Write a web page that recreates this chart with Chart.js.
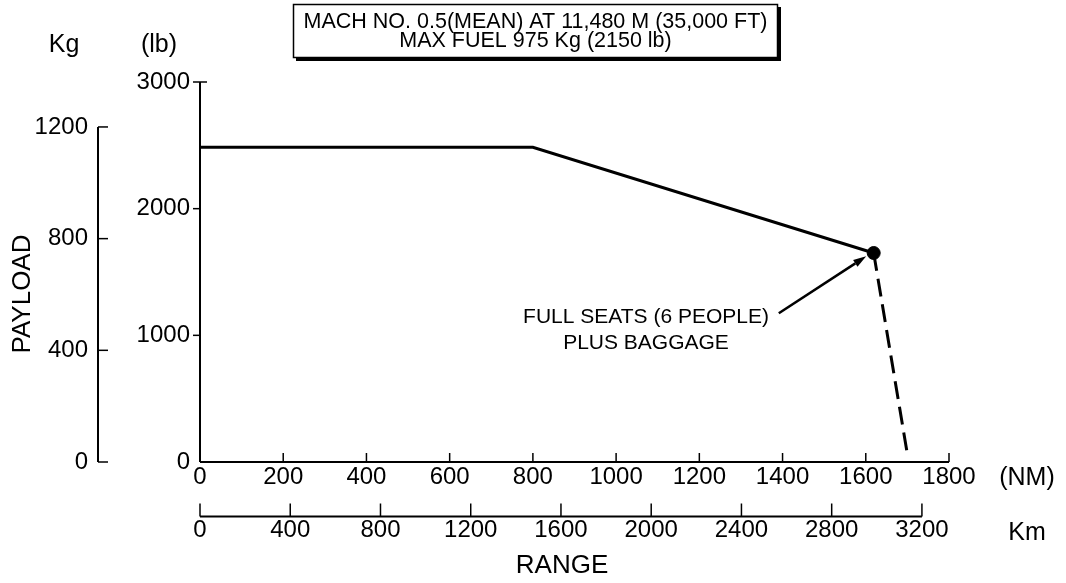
<!DOCTYPE html>
<html><head><meta charset="utf-8">
<script src="https://cdn.jsdelivr.net/npm/chart.js@4/dist/chart.umd.min.js"></script>
<style>html,body{margin:0;padding:0;background:#fff;} canvas{display:block;}</style>
</head><body>
<canvas id="c" width="1066" height="583"></canvas>
<script>
// ---- data ----
const rangeNM = [0, 800, 1619];
const payloadLb = [2485, 2485, 1650];
const fullSeatsNM = [1619];
const fullSeatsLb = [1650];
const fuelLimitNM = [1619, 1699];
const fuelLimitLb = [1650, 80];
const nmTicks = [0, 200, 400, 600, 800, 1000, 1200, 1400, 1600, 1800];
const kmTicks = [0, 400, 800, 1200, 1600, 2000, 2400, 2800, 3200];
const lbTicks = [0, 1000, 2000, 3000];
const kgTicks = [0, 400, 800, 1200];
const nmMax = 1800, kmMax = 3320, lbMax = 3000, kgMax = 1361;
const titleLines = ["MACH NO. 0.5(MEAN) AT 11,480 M (35,000 FT)", "MAX FUEL 975 Kg (2150 lb)"];
const noteLines = ["FULL SEATS (6 PEOPLE)", "PLUS BAGGAGE"];
const arrowFrom = {x: 1391, y: 1174};
const arrowTo = {x: 1601, y: 1624};

const F = '"Liberation Sans", Arial, Helvetica, sans-serif';
const pts = (xs, ys) => xs.map((x, i) => ({x, y: ys[i]}));
const fixTicks = arr => s => { s.ticks = arr.map(v => ({value: v})); };
const plain = v => String(v);
const tickFont = {size: 24, family: F};

const axesPlugin = {
  id: 'axesDeco',
  beforeDraw(chart) {
    const c = chart.ctx;
    c.save(); c.fillStyle = '#fff'; c.fillRect(0, 0, chart.width, chart.height); c.restore();
  },
  afterDraw(chart) {
    const c = chart.ctx, s = chart.scales, ca = chart.chartArea;
    c.save();
    c.strokeStyle = '#000'; c.fillStyle = '#000';
    const line = (x1, y1, x2, y2, w) => { c.lineWidth = w; c.beginPath(); c.moveTo(x1, y1); c.lineTo(x2, y2); c.stroke(); };
    // lb axis
    const lx = ca.left;
    line(lx, s.y.getPixelForValue(0), lx, s.y.getPixelForValue(lbMax), 2);
    lbTicks.forEach(v => { if (v > 0) line(lx - 7, s.y.getPixelForValue(v), lx, s.y.getPixelForValue(v), 1.5); });
    line(lx, s.y.getPixelForValue(lbMax), lx + 7, s.y.getPixelForValue(lbMax), 1.5);
    // kg axis
    const kx = s.ykg.right - 38;
    line(kx, s.ykg.getPixelForValue(0), kx, s.ykg.getPixelForValue(kgTicks[kgTicks.length - 1]), 2);
    kgTicks.forEach(v => line(kx, s.ykg.getPixelForValue(v), kx + 10, s.ykg.getPixelForValue(v), 1.5));
    // NM axis
    const ny = ca.bottom;
    line(s.x.getPixelForValue(0), ny, s.x.getPixelForValue(nmMax), ny, 2);
    nmTicks.forEach(v => { if (v > 0) line(s.x.getPixelForValue(v), ny, s.x.getPixelForValue(v), ny - 9, 1.5); });
    // km axis
    const ky = s.xkm.top + 24.5;
    line(s.xkm.getPixelForValue(0), ky, s.xkm.getPixelForValue(kmTicks[kmTicks.length - 1]), ky, 2);
    kmTicks.forEach(v => line(s.xkm.getPixelForValue(v), ky, s.xkm.getPixelForValue(v), ky - 13, 1.5));

    // unit / axis labels
    c.textAlign = 'center'; c.textBaseline = 'middle';
    c.font = '25px ' + F;
    c.fillText('Kg', 64, 45);
    c.fillText('(lb)', 159, 45);
    c.fillText('(NM)', 1027, 478);
    c.fillText('Km', 1027, 533);
    c.font = '26px ' + F;
    c.fillText('RANGE', 562, 566);
    c.save(); c.translate(23, 294); c.rotate(-Math.PI / 2); c.fillText('PAYLOAD', 0, 0); c.restore();

    // title box
    const bx = 293, by = 4, bw = 485, bh = 54;
    c.fillRect(bx + 3, by + 3, bw, bh);
    c.fillStyle = '#fff'; c.fillRect(bx, by, bw, bh);
    c.lineWidth = 1.5; c.strokeRect(bx + 0.5, by + 0.5, bw - 1, bh - 1);
    c.fillStyle = '#000';
    c.font = '21.5px ' + F;
    c.fillText(titleLines[0], bx + bw / 2, 22);
    c.fillText(titleLines[1], bx + bw / 2, 41);

    // annotation
    c.font = '21px ' + F;
    c.fillText(noteLines[0], 646, 317);
    c.fillText(noteLines[1], 646, 343);
    const ax1 = s.x.getPixelForValue(arrowFrom.x), ay1 = s.y.getPixelForValue(arrowFrom.y);
    const ax2 = s.x.getPixelForValue(arrowTo.x), ay2 = s.y.getPixelForValue(arrowTo.y);
    const ang = Math.atan2(ay2 - ay1, ax2 - ax1);
    const hl = 13, hw = 4;
    const bxp = ax2 - hl * Math.cos(ang), byp = ay2 - hl * Math.sin(ang);
    line(ax1, ay1, bxp, byp, 2.5);
    c.beginPath();
    c.moveTo(ax2, ay2);
    c.lineTo(bxp + hw * Math.sin(ang), byp - hw * Math.cos(ang));
    c.lineTo(bxp - hw * Math.sin(ang), byp + hw * Math.cos(ang));
    c.closePath(); c.fill();
    c.restore();
  }
};

new Chart(document.getElementById('c'), {
  type: 'scatter',
  data: {
    datasets: [
      {data: pts(rangeNM, payloadLb), showLine: true, borderColor: '#000', backgroundColor: '#000', borderWidth: 3, pointRadius: 0, xAxisID: 'x', yAxisID: 'y'},
      {data: pts(fuelLimitNM, fuelLimitLb), showLine: true, borderColor: '#000', borderWidth: 3, borderDash: [18, 8], pointRadius: 0, xAxisID: 'x', yAxisID: 'y'},
      {data: pts(fullSeatsNM, fullSeatsLb), showLine: false, backgroundColor: '#000', borderColor: '#000', pointRadius: 6.5, xAxisID: 'x', yAxisID: 'y'}
    ]
  },
  options: {
    responsive: false,
    animation: false,
    events: [],
    layout: {padding: {left: 33, top: 82, right: 117, bottom: 31}},
    plugins: {legend: {display: false}, tooltip: {enabled: false}, title: {display: false}},
    scales: {
      x: {type: 'linear', position: 'bottom', weight: 0, min: 0, max: nmMax,
          afterBuildTicks: fixTicks(nmTicks), afterFit: sc => { sc.height = 30; },
          grid: {display: false, drawTicks: false}, border: {display: false},
          ticks: {padding: 1, color: '#000', font: tickFont, autoSkip: false, maxRotation: 0, callback: plain}},
      xkm: {type: 'linear', position: 'bottom', weight: 1, min: 0, max: kmMax,
          afterBuildTicks: fixTicks(kmTicks), afterFit: sc => { sc.height = 60; },
          grid: {display: false, drawTicks: false}, border: {display: false},
          ticks: {padding: 24, color: '#000', font: tickFont, autoSkip: false, maxRotation: 0, callback: plain}},
      y: {type: 'linear', position: 'left', weight: 0, min: 0, max: lbMax,
          afterBuildTicks: fixTicks(lbTicks), afterFit: sc => { sc.width = 64; },
          grid: {display: false, drawTicks: false}, border: {display: false},
          ticks: {padding: 10, color: '#000', font: tickFont, callback: plain}},
      ykg: {type: 'linear', position: 'left', weight: 1, min: 0, max: kgMax,
          afterBuildTicks: fixTicks(kgTicks), afterFit: sc => { sc.width = 103; },
          grid: {display: false, drawTicks: false}, border: {display: false},
          ticks: {padding: 48, color: '#000', font: tickFont, callback: plain}}
    }
  },
  plugins: [axesPlugin]
});
</script>
</body></html>
